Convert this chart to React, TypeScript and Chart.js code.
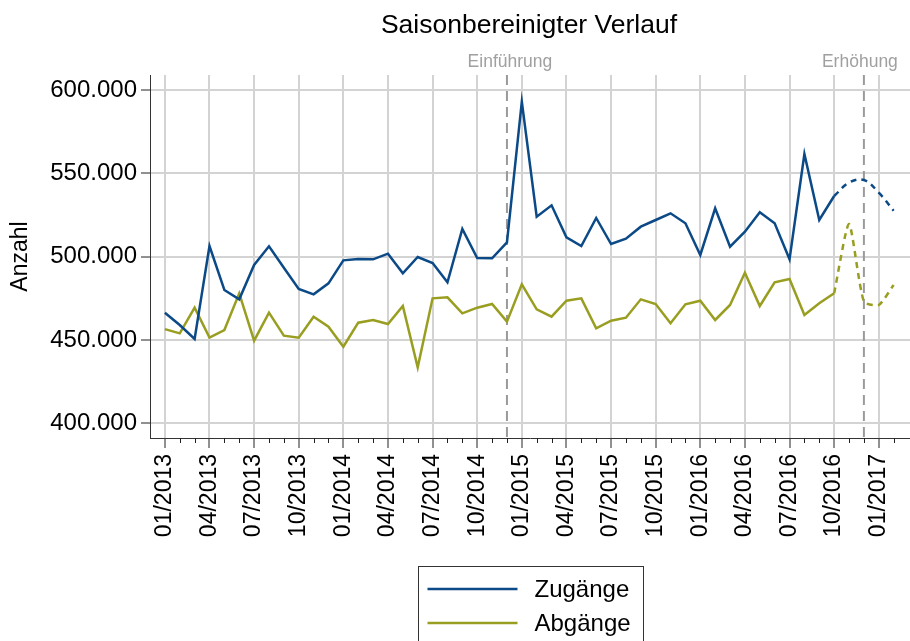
import React, { useEffect, useRef } from 'react';
import { Chart, registerables } from 'chart.js';

Chart.register(...registerables);

const FONT = "'Liberation Sans', Arial, Helvetica, sans-serif";

const months = [
  '01/2013', '02/2013', '03/2013', '04/2013', '05/2013', '06/2013', '07/2013', '08/2013', '09/2013', '10/2013', '11/2013', '12/2013',
  '01/2014', '02/2014', '03/2014', '04/2014', '05/2014', '06/2014', '07/2014', '08/2014', '09/2014', '10/2014', '11/2014', '12/2014',
  '01/2015', '02/2015', '03/2015', '04/2015', '05/2015', '06/2015', '07/2015', '08/2015', '09/2015', '10/2015', '11/2015', '12/2015',
  '01/2016', '02/2016', '03/2016', '04/2016', '05/2016', '06/2016', '07/2016', '08/2016', '09/2016', '10/2016', '11/2016', '12/2016',
  '01/2017', '02/2017',
];

const tickLabels = [
  '01/2013', '04/2013', '07/2013', '10/2013', '01/2014', '04/2014', '07/2014', '10/2014',
  '01/2015', '04/2015', '07/2015', '10/2015', '01/2016', '04/2016', '07/2016', '10/2016', '01/2017',
];

const yTicks = [400000, 450000, 500000, 550000, 600000];

// Observed (solid) values, 01/2013 .. 10/2016
const zugaenge = [
  466400, 459000, 450600, 506400, 480000, 474400, 495000, 506200, 493400, 480600, 477400, 484000,
  497800, 498600, 498400, 501800, 490000, 499800, 496200, 484600, 516600, 499200, 499000, 508600,
  593000, 524000, 530800, 511600, 506400, 523200, 507600, 510800, 518000, 522000, 526000, 520000,
  501000, 529000, 506000, 515000, 526600, 520000, 498400, 561600, 522000, 536400,
];
const abgaenge = [
  456500, 454000, 469400, 451400, 456000, 478000, 449600, 466400, 452600, 451400, 464000, 458000,
  446000, 460400, 462000, 459600, 470400, 433600, 475000, 475600, 466000, 469400, 471600, 461000,
  483400, 468400, 464000, 473600, 475000, 457000, 461600, 463400, 474400, 471600, 460000, 471400,
  473600, 462000, 471000, 490400, 470400, 484600, 486600, 465000, 472000, 478000,
];

// Dashed continuation, 10/2016 .. 02/2017
const forecastMonths = ['10/2016', '11/2016', '12/2016', '01/2017', '02/2017'];
const zugaengeForecast = [536400, 544400, 546000, 538400, 527600];
const abgaengeForecast = [478000, 519600, 473000, 471000, 483000];

const events = [
  { month: '12/2014', label: 'Einführung' },
  { month: '12/2016', label: 'Erhöhung' },
];

const BLUE = '#0b4a87';
const GREEN = '#999e20';

const fmt = (v: number) => Math.round(v).toString().replace(/\B(?=(\d{3})+(?!\d))/g, '.');

const overlay = {
  id: 'overlay',
  beforeDatasetsDraw(chart: any) {
    const { ctx, chartArea, scales } = chart;
    const x = scales.x;
    ctx.save();
    ctx.strokeStyle = '#9a9a9a';
    ctx.lineWidth = 2;
    ctx.setLineDash([10, 6]);
    events.forEach((e) => {
      const px = x.getPixelForValue(months.indexOf(e.month));
      ctx.beginPath();
      ctx.moveTo(px, chartArea.top);
      ctx.lineTo(px, chartArea.bottom);
      ctx.stroke();
    });
    ctx.restore();
  },
  afterDraw(chart: any) {
    const { ctx, chartArea, scales } = chart;
    const x = scales.x;
    const cx = (chartArea.left + chartArea.right) / 2;
    ctx.save();
    // minor monthly ticks
    ctx.strokeStyle = '#222';
    ctx.lineWidth = 1;
    months.forEach((m, i) => {
      if (tickLabels.includes(m)) return;
      const px = Math.round(x.getPixelForValue(i)) + 0.5;
      ctx.beginPath();
      ctx.moveTo(px, chartArea.bottom);
      ctx.lineTo(px, chartArea.bottom + 5);
      ctx.stroke();
    });
    // title
    ctx.fillStyle = '#000';
    ctx.font = `26.5px ${FONT}`;
    ctx.textAlign = 'center';
    ctx.textBaseline = 'alphabetic';
    ctx.fillText('Saisonbereinigter Verlauf', cx - 1, 33);
    // event labels
    ctx.fillStyle = '#a0a0a0';
    ctx.font = `17.5px ${FONT}`;
    events.forEach((e, i) => {
      const px = x.getPixelForValue(months.indexOf(e.month));
      ctx.fillText(e.label, i === events.length - 1 ? px - 4 : px + 3, 67);
    });
    // y-axis title
    ctx.save();
    ctx.translate(21, (chartArea.top + chartArea.bottom) / 2);
    ctx.rotate(-Math.PI / 2);
    ctx.fillStyle = '#000';
    ctx.font = `23px ${FONT}`;
    ctx.textAlign = 'center';
    ctx.textBaseline = 'middle';
    ctx.fillText('Anzahl', 0, 0);
    ctx.restore();
    // legend
    const boxW = 225;
    const left = cx - boxW / 2;
    const top = 566.5;
    ctx.strokeStyle = '#333';
    ctx.lineWidth = 1;
    ctx.strokeRect(Math.round(left) + 0.5, top, boxW, 120);
    const items = chart.data.datasets.slice(0, 2);
    items.forEach((ds: any, i: number) => {
      const y = 589 + i * 34;
      ctx.strokeStyle = ds.borderColor;
      ctx.lineWidth = 2.5;
      ctx.beginPath();
      ctx.moveTo(left + 10, y);
      ctx.lineTo(left + 100, y);
      ctx.stroke();
      ctx.fillStyle = '#000';
      ctx.font = `24px ${FONT}`;
      ctx.textAlign = 'left';
      ctx.textBaseline = 'middle';
      ctx.fillText(ds.label, left + 117, y + 1);
    });
    ctx.restore();
  },
};

export default function App() {
  const ref = useRef<HTMLCanvasElement>(null);
  useEffect(() => {
    document.body.style.margin = '0';
    const toXY = (vals: number[], labels: string[]) =>
      vals.map((v, i) => ({ x: months.indexOf(labels[i]), y: v }));
    const chart = new Chart(ref.current as HTMLCanvasElement, {
      type: 'line',
      data: {
        datasets: [
          {
            label: 'Zugänge',
            data: toXY(zugaenge, months),
            borderColor: BLUE,
            borderWidth: 2.5,
            pointRadius: 0,
            tension: 0,
          },
          {
            label: 'Abgänge',
            data: toXY(abgaenge, months),
            borderColor: GREEN,
            borderWidth: 2.5,
            pointRadius: 0,
            tension: 0,
          },
          {
            label: 'Zugänge (Prognose)',
            data: toXY(zugaengeForecast, forecastMonths),
            borderColor: BLUE,
            borderWidth: 2.5,
            borderDash: [6, 5],
            pointRadius: 0,
            tension: 0.4,
          },
          {
            label: 'Abgänge (Prognose)',
            data: toXY(abgaengeForecast, forecastMonths),
            borderColor: GREEN,
            borderWidth: 2.5,
            borderDash: [6, 5],
            pointRadius: 0,
            tension: 0.2,
          },
        ],
      },
      options: {
        responsive: false,
        animation: false,
        layout: { padding: { top: 75, right: 0, bottom: 0, left: 0 } },
        plugins: {
          legend: { display: false },
          tooltip: { enabled: false },
          title: { display: false },
        },
        scales: {
          x: {
            type: 'linear',
            min: -1,
            max: 50.1,
            afterBuildTicks: (scale: any) => {
              scale.ticks = tickLabels.map((l) => ({ value: months.indexOf(l) }));
            },
            afterFit: (scale: any) => {
              scale.height = 641 - 438;
              scale.paddingLeft = 0;
              scale.paddingRight = 0;
            },
            grid: {
              color: '#d3d3d3',
              lineWidth: 2,
              tickColor: '#222',
              tickWidth: 1,
              tickLength: 10,
            },
            border: { display: true, color: '#333', width: 1 },
            ticks: {
              autoSkip: false,
              minRotation: 90,
              maxRotation: 90,
              padding: 6,
              color: '#000',
              font: { family: FONT, size: 23 },
              callback: (v: any) => months[Math.round(Number(v))] ?? '',
            },
          },
          y: {
            min: 391200,
            max: 609000,
            afterBuildTicks: (scale: any) => {
              scale.ticks = yTicks.map((v) => ({ value: v }));
            },
            afterFit: (scale: any) => {
              scale.width = 150;
            },
            grid: {
              color: '#d3d3d3',
              lineWidth: 2,
              tickColor: '#222',
              tickWidth: 1,
              tickLength: 9,
            },
            border: { display: true, color: '#333', width: 1 },
            ticks: {
              padding: 4,
              color: '#000',
              font: { family: FONT, size: 24 },
              callback: (v: any) => fmt(Number(v)),
            },
          },
        },
      },
      plugins: [overlay],
    } as any);
    return () => chart.destroy();
  }, []);
  return (
    <div style={{ width: 910, height: 641, position: 'relative', background: '#fff' }}>
      <canvas ref={ref} width={910} height={641} style={{ display: 'block' }} />
    </div>
  );
}
